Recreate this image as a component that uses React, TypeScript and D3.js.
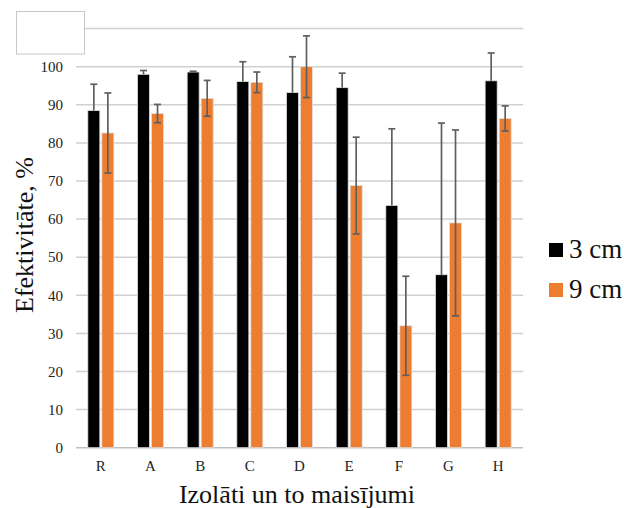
import React from "react";
import * as d3 from "d3";

const categories = ["R", "A", "B", "C", "D", "E", "F", "G", "H"];
const seriesNames = ["3 cm", "9 cm"];
const values3cm = [88.5, 98.0, 98.6, 96.1, 93.2, 94.5, 63.6, 45.4, 96.3];
const values9cm = [82.6, 87.7, 91.7, 95.9, 100.0, 68.8, 32.0, 59.0, 86.4];
const errPlus3cm = [6.9, 1.0, 0.2, 5.2, 9.4, 3.8, 20.1, 39.8, 7.3];
const err9cm = [10.5, 2.4, 4.7, 2.7, 8.1, 12.7, 13.0, 24.4, 3.3];
const yTicks = [0, 10, 20, 30, 40, 50, 60, 70, 80, 90, 100, 110];
const colors = ["#000000", "#ED7D31"];

const W = 624;
const H = 508;
const FONT = "'Liberation Serif', 'DejaVu Serif', 'Times New Roman', serif";

export default function App() {
  const x0 = d3.scaleBand<string>().domain(categories).range([76, 523]).paddingInner(0).paddingOuter(0);
  const x1 = d3
    .scaleBand<string>()
    .domain(seriesNames)
    .range([0, x0.step()])
    .paddingInner(0.143)
    .paddingOuter(0.843);
  const y = d3.scaleLinear().domain([0, 110]).range([447.7, 28.6]);

  const series = [
    { name: seriesNames[0], vals: values3cm, up: errPlus3cm, down: values3cm.map(() => 0), color: colors[0] },
    { name: seriesNames[1], vals: values9cm, up: err9cm, down: err9cm, color: colors[1] },
  ];

  const txt = { fontFamily: FONT };

  return (
    <svg
      width={W}
      height={H}
      viewBox={`0 0 ${W} ${H}`}
      style={{ position: "absolute", left: 0, top: 0, background: "#fff", fontFamily: FONT }}
    >
      <rect x={0} y={0} width={W} height={H} fill="#fff" />
      {yTicks.map((t) => (
        <line
          key={"g" + t}
          x1={76}
          x2={523}
          y1={y(t)}
          y2={y(t)}
          stroke={t === 0 ? "#bfbfbf" : "#d0d0d0"}
          strokeWidth={1.5}
        />
      ))}
      {yTicks.map((t) => (
        <text key={"yl" + t} x={63} y={y(t)} dy="0.35em" textAnchor="end" fontSize={15} fill="#222" style={txt}>
          {t}
        </text>
      ))}
      {series.map((s) =>
        categories.map((c, i) => {
          const bx = (x0(c) as number) + (x1(s.name) as number);
          const bw = x1.bandwidth();
          return (
            <rect
              key={s.name + c}
              x={bx}
              y={y(s.vals[i])}
              width={bw}
              height={y(0) - y(s.vals[i])}
              fill={s.color}
              stroke="#e0e0e0"
              strokeWidth={0.8}
            />
          );
        })
      )}
      {series.map((s) =>
        categories.map((c, i) => {
          const cx = (x0(c) as number) + (x1(s.name) as number) + x1.bandwidth() / 2;
          const yt = y(s.vals[i] + s.up[i]);
          const yb = y(s.vals[i] - s.down[i]);
          return (
            <g key={"e" + s.name + c} stroke="#5f5f5f" strokeWidth={1.7}>
              <line x1={cx} x2={cx} y1={yt} y2={yb} />
              <line x1={cx - 3.5} x2={cx + 3.5} y1={yt} y2={yt} />
              {s.down[i] > 0 && <line x1={cx - 3.5} x2={cx + 3.5} y1={yb} y2={yb} />}
            </g>
          );
        })
      )}
      {categories.map((c) => (
        <text
          key={"xl" + c}
          x={(x0(c) as number) + x0.bandwidth() / 2}
          y={471}
          textAnchor="middle"
          fontSize={15}
          fill="#222"
          style={txt}
        >
          {c}
        </text>
      ))}
      <text x={297} y={503} textAnchor="middle" fontSize={26} fill="#111" style={txt}>
        Izolāti un to maisījumi
      </text>
      <text transform={`translate(33, 235) rotate(-90)`} textAnchor="middle" fontSize={26} fill="#111" style={txt}>
        Efektivitāte, %
      </text>
      <rect x={16.5} y={11.5} width={68} height={42.5} fill="#fff" stroke="#c8c8c8" strokeWidth={1} />
      {series.map((s, i) => (
        <g key={"lg" + s.name} transform={`translate(549, ${243 + i * 40})`}>
          <rect x={0} y={0} width={14} height={14} fill={s.color} />
          <text x={20} y={15} fontSize={27} fill="#111" style={txt}>
            {s.name}
          </text>
        </g>
      ))}
    </svg>
  );
}
